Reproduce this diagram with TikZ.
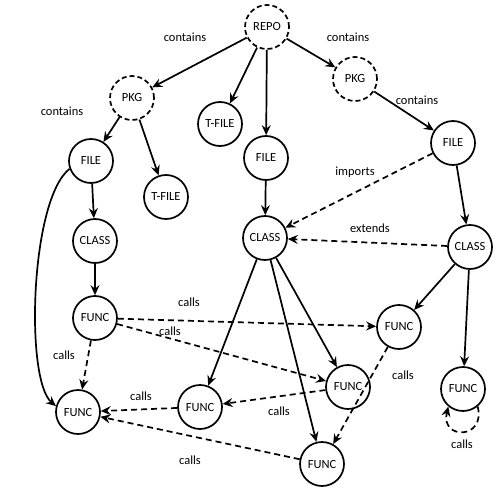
\documentclass[tikz,border=0pt]{standalone}
\usepackage{fontspec}
\setmainfont{Carlito}
\usetikzlibrary{arrows.meta}
\tikzset{
  nd/.style={circle, draw, line width=1.7bp, minimum size=44bp, inner sep=0pt, font=\fontsize{12.5}{13}\selectfont},
  pk/.style={nd, dashed, dash pattern=on 5bp off 3bp},
  ar/.style={line width=1.7bp, -{Stealth[length=10bp,width=9bp,inset=3.5bp]}},
  dar/.style={ar, dash pattern=on 6bp off 4bp},
  lb/.style={font=\fontsize{12.5}{13}\selectfont}
}
\begin{document}
\begin{tikzpicture}[x=1bp,y=-1bp]
\useasboundingbox (0,0) rectangle (504,495);
\node[pk] (repo) at (267,27) {REPO};
\node[pk] (pkgL) at (132,98) {PKG};
\node[pk] (pkgR) at (355,79) {PKG};
\node[nd] (tfileM) at (220,124) {T-FILE};
\node[nd] (tfileL) at (166,197) {T-FILE};
\node[nd] (fileL) at (91,161) {FILE};
\node[nd] (classL) at (95,241) {CLASS};
\node[nd] (fileM) at (266,158) {FILE};
\node[nd] (classM) at (265,238) {CLASS};
\node[nd] (fileR) at (453,143) {FILE};
\node[nd] (classR) at (470,247) {CLASS};
\node[nd] (funcA) at (95,318) {FUNC};
\node[nd] (funcB) at (78,412) {FUNC};
\node[nd] (funcC) at (200,407) {FUNC};
\node[nd] (funcD) at (399,327) {FUNC};
\node[nd] (funcE) at (348,387) {FUNC};
\node[nd] (funcF) at (322,464) {FUNC};
\node[nd] (funcG) at (463,389) {FUNC};

\draw[ar] (repo) -- (pkgL);
\draw[ar] (repo) -- (tfileM);
\draw[ar] (repo) -- (fileM);
\draw[ar] (repo) -- (pkgR);
\draw[ar] (pkgL) -- (fileL);
\draw[ar] (pkgL) -- (tfileL);
\draw[ar] (pkgR) -- (fileR);
\draw[ar] (fileL) -- (classL);
\draw[ar] (fileL.200) .. controls (30,200) and (25,380) .. (funcB.165);
\draw[ar] (classL) -- (funcA);
\draw[ar] (fileM) -- (classM);
\draw[ar] (fileR) -- (classR);
\draw[ar] (classM) -- (funcC);
\draw[ar] (classM) -- (funcE);
\draw[ar] (classM) -- (funcF);
\draw[ar] (classR) -- (funcD);
\draw[ar] (classR) -- (funcG);

\draw[dar] (fileR) -- (classM);
\draw[dar] (classR) -- (classM);
\draw[dar] (funcA) -- (funcB);
\draw[dar] (funcA) -- (funcD);
\draw[dar] (funcA) -- (funcE);
\draw[dar] (funcC) -- (funcB);
\draw[dar] (funcE) -- (funcC);
\draw[dar] (funcD) -- (funcF);
\draw[dar] (funcF) -- (funcB);
\draw[dar] (funcG.-50) .. controls (486,440) and (440,440) .. (funcG.-130);

\node[lb] (l1) at (185,37) {contains};
\node[lb] (l2) at (348,37) {contains};
\node[lb] (l3) at (62,111) {contains};
\node[lb] (l4) at (417,100) {contains};
\node[lb] (l5) at (355,172) {imports};
\node[lb] (l6) at (370,228) {extends};
\node[lb] (l7) at (189,302) {calls};
\node[lb] (l8) at (170,331) {calls};
\node[lb] (l9) at (64,355) {calls};
\node[lb] (l10) at (141,396) {calls};
\node[lb] (l11) at (279,411) {calls};
\node[lb] (l12) at (403,375) {calls};
\node[lb] (l13) at (190,460) {calls};
\node[lb] (l14) at (462,444) {calls};
\end{tikzpicture}
\end{document}
